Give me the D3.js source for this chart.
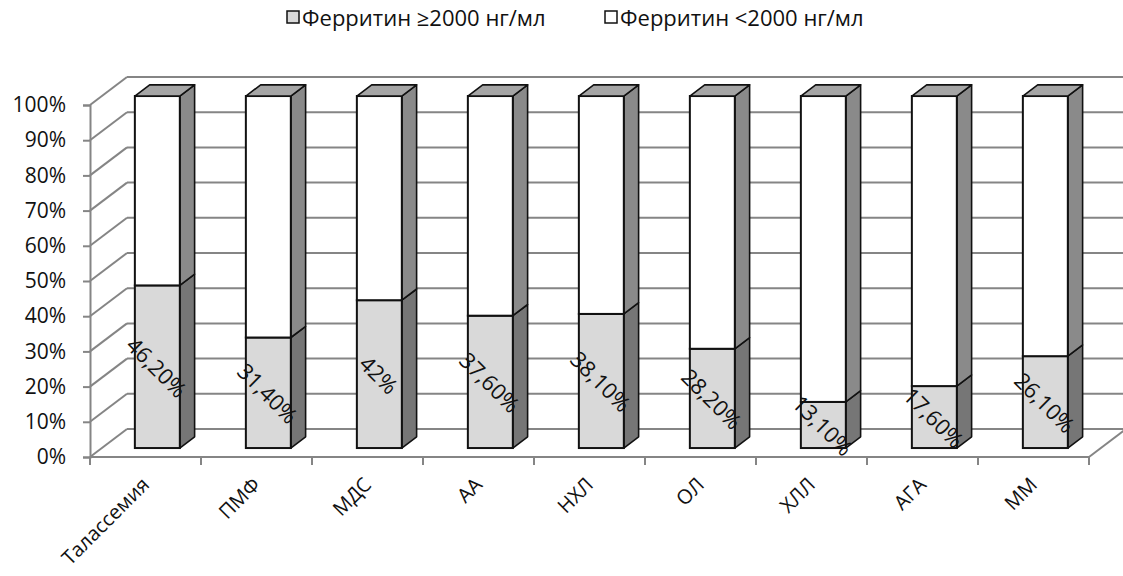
<!DOCTYPE html>
<html>
<head>
<meta charset="utf-8">
<script src="https://cdn.jsdelivr.net/npm/d3@7"></script>
<style>
  html, body { margin: 0; padding: 0; background: #fff; }
  svg { display: block; font-family: "Open Sans", "DejaVu Sans", sans-serif; }
</style>
</head>
<body>
<svg id="chart" width="1123" height="576"></svg>
<script>
// Diagnoses along the x axis
const categories = ["Талассемия", "ПМФ", "МДС", "АА", "НХЛ", "ОЛ", "ХЛЛ", "АГА", "ММ"];
// Share of patients with ferritin >= 2000 ng/ml, percent
const highFerritin = [46.2, 31.4, 42, 37.6, 38.1, 28.2, 13.1, 17.6, 26.1];
// Data labels as printed on the columns
const highLabels = ["46,20%", "31,40%", "42%", "37,60%", "38,10%", "28,20%", "13,10%", "17,60%", "26,10%"];
// Remaining share (ferritin < 2000 ng/ml) completes each column to 100%
const lowFerritin = highFerritin.map(v => 100 - v);
const yTicks = [0, 10, 20, 30, 40, 50, 60, 70, 80, 90, 100];
const seriesNames = ["Ферритин ≥2000 нг/мл", "Ферритин <2000 нг/мл"];
const seriesFill = ["#d9d9d9", "#ffffff"];
const seriesSide = ["#767676", "#8a8a8a"];
const topFill = "#a5a5a5";

const svg = d3.select("#chart");

// Front plane of the 3-D plot area
const x = d3.scaleBand().domain(categories).range([90, 1089]).padding(0);
const y = d3.scaleLinear().domain([0, 100]).range([457, 105]);

// Oblique depth vector from the front plane to the back wall
const depth = { dx: 37, dy: -28 };
const barFront = 0.32, barBack = 0.72;      // depth span occupied by columns
const barWidthRatio = 0.405;

const gridColor = "#858585";

// Back wall gridlines and left wall diagonals
const grid = svg.append("g");
grid.selectAll("line.back")
  .data(yTicks)
  .join("line")
  .attr("x1", 90 + depth.dx).attr("x2", 1125)
  .attr("y1", d => y(d) + depth.dy).attr("y2", d => y(d) + depth.dy)
  .attr("stroke", gridColor).attr("stroke-width", 2);
grid.selectAll("line.side")
  .data(yTicks)
  .join("line")
  .attr("x1", 90).attr("y1", d => y(d))
  .attr("x2", 90 + depth.dx).attr("y2", d => y(d) + depth.dy)
  .attr("stroke", gridColor).attr("stroke-width", 2);

// Floor front edge and right floor edge
const xEnd = x.range()[1];
grid.append("line")
  .attr("x1", 90).attr("x2", xEnd).attr("y1", y(0)).attr("y2", y(0))
  .attr("stroke", gridColor).attr("stroke-width", 2);
grid.append("line")
  .attr("x1", xEnd).attr("y1", y(0))
  .attr("x2", xEnd + depth.dx).attr("y2", y(0) + depth.dy)
  .attr("stroke", gridColor).attr("stroke-width", 2);

// Value axis
const yAxis = svg.append("g").attr("transform", "translate(90,0)")
  .call(d3.axisLeft(y).tickValues(yTicks).tickFormat(d => d + "%").tickSize(7).tickPadding(17));
yAxis.select(".domain").attr("stroke", gridColor).attr("stroke-width", 2);
yAxis.selectAll(".tick line").attr("stroke", gridColor).attr("stroke-width", 2);
yAxis.selectAll(".tick text").attr("font-size", 21).attr("fill", "#111")
  .attr("font-family", "\"Open Sans\", sans-serif");

// Category axis ticks at band boundaries
const boundaries = categories.map(c => x(c)).concat([xEnd]);
svg.append("g").selectAll("line")
  .data(boundaries)
  .join("line")
  .attr("x1", d => d).attr("x2", d => d)
  .attr("y1", y(0)).attr("y2", y(0) + 8)
  .attr("stroke", gridColor).attr("stroke-width", 2);

// Category labels, rotated
svg.append("g").selectAll("text")
  .data(categories)
  .join("text")
  .attr("transform", d => `translate(${x(d) + x.bandwidth() / 2 + 5},${y(0) + 29}) rotate(-45)`)
  .attr("text-anchor", "end")
  .attr("font-size", 20)
  .attr("fill", "#111")
  .text(d => d);

// Stacked 3-D columns
const stackData = categories.map((c, i) => ({ cat: c, high: highFerritin[i], low: lowFerritin[i], label: highLabels[i] }));
const stack = d3.stack().keys(["high", "low"])(stackData);

const bw = x.bandwidth() * barWidthRatio;
const fdx = depth.dx * barFront, fdy = depth.dy * barFront;
const sdx = depth.dx * (barBack - barFront), sdy = depth.dy * (barBack - barFront);

const bars = svg.append("g");
categories.forEach((c, i) => {
  const g = bars.append("g");
  const x0 = x(c) + (x.bandwidth() - bw) / 2 + fdx;
  const x1 = x0 + bw;
  stack.forEach((layer, k) => {
    const seg = layer[i];
    const yb = y(seg[0]) + fdy, yt = y(seg[1]) + fdy;
    // side face
    g.append("path")
      .attr("d", `M${x1},${yt}L${x1 + sdx},${yt + sdy}L${x1 + sdx},${yb + sdy}L${x1},${yb}Z`)
      .attr("fill", seriesSide[k]).attr("stroke", "#111").attr("stroke-width", 1.6)
      .attr("stroke-linejoin", "round");
    // front face
    g.append("rect")
      .attr("x", x0).attr("y", yt).attr("width", bw).attr("height", yb - yt)
      .attr("fill", seriesFill[k]).attr("stroke", "#111").attr("stroke-width", 2);
    // top face of the last segment
    if (k === stack.length - 1) {
      g.append("path")
        .attr("d", `M${x0},${yt}L${x1},${yt}L${x1 + sdx},${yt + sdy}L${x0 + sdx},${yt + sdy}Z`)
        .attr("fill", topFill).attr("stroke", "#111").attr("stroke-width", 1.6)
        .attr("stroke-linejoin", "round");
    }
  });
});

// Data labels on the lower segment
svg.append("g").selectAll("text")
  .data(stack[0])
  .join("text")
  .attr("transform", (d, i) => {
    const cx = x(categories[i]) + x.bandwidth() / 2 + fdx;
    const cy = (y(d[0]) + y(d[1])) / 2 + fdy;
    return `translate(${cx},${cy}) rotate(45)`;
  })
  .attr("text-anchor", "middle")
  .attr("dominant-baseline", "central")
  .attr("font-size", 22)
  .attr("fill", "#111")
  .text((d, i) => highLabels[i]);

// Legend
const legend = svg.append("g");
const legendX = [287, 605];
seriesNames.forEach((name, k) => {
  legend.append("rect")
    .attr("x", legendX[k]).attr("y", 11).attr("width", 12).attr("height", 12)
    .attr("fill", seriesFill[k]).attr("stroke", "#111").attr("stroke-width", 1.5);
  legend.append("text")
    .attr("x", legendX[k] + 15).attr("y", 17)
    .attr("dominant-baseline", "central")
    .attr("font-size", 22).attr("fill", "#111")
    .text(name);
});
</script>
</body>
</html>
